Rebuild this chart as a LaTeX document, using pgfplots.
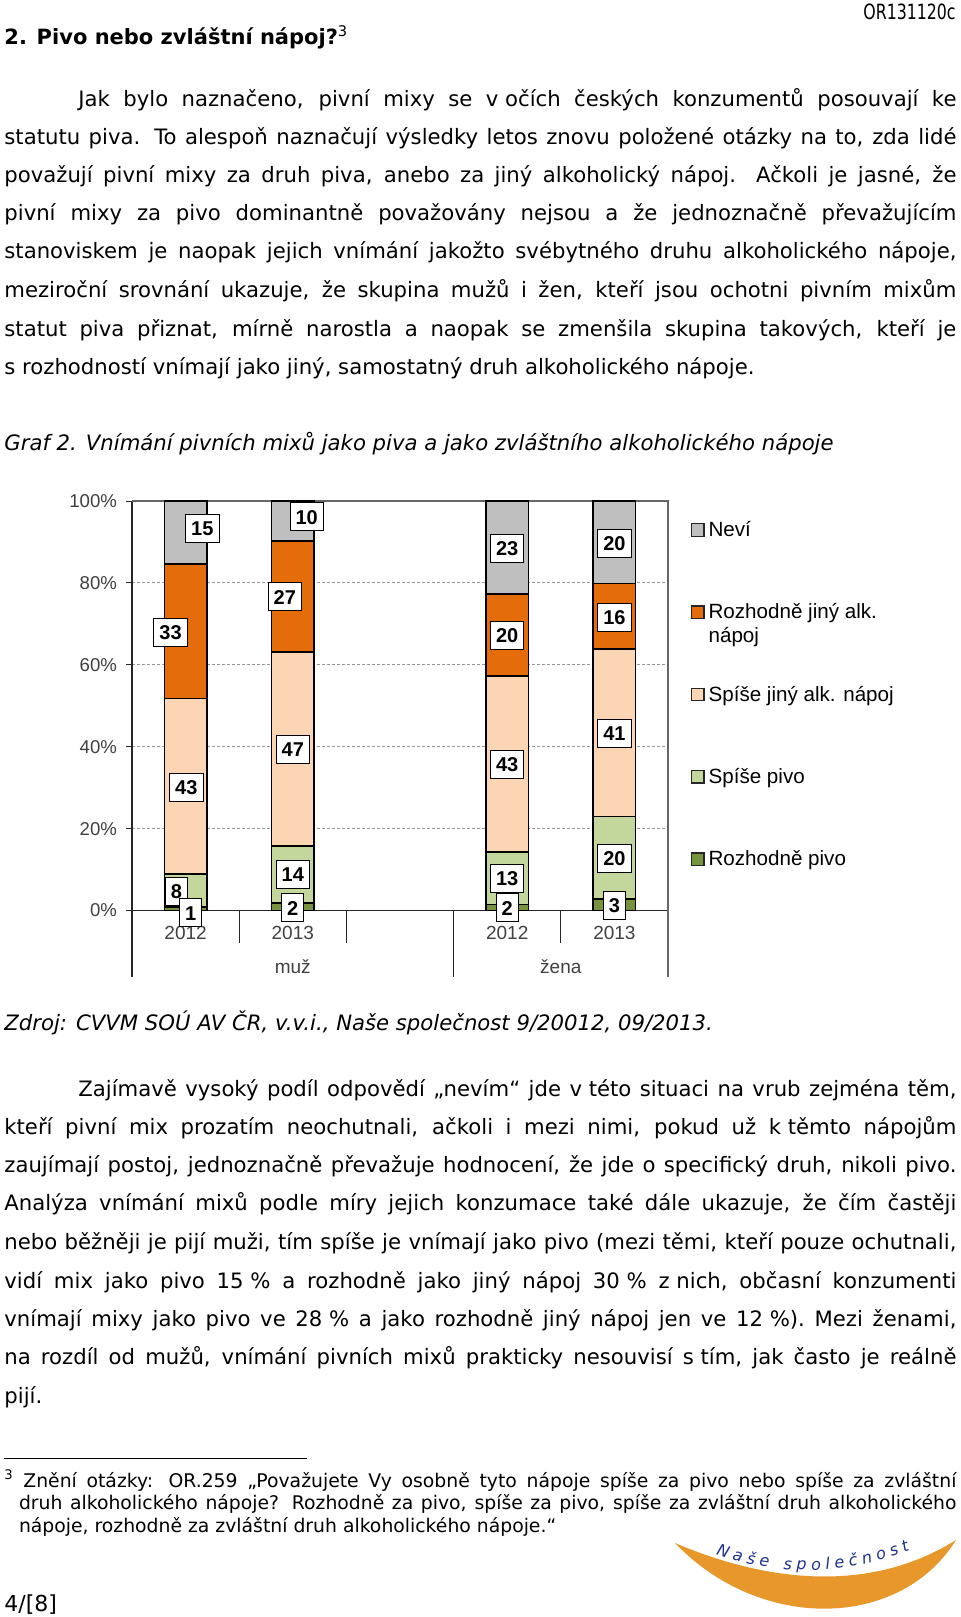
\documentclass[border=0pt]{standalone}
\usepackage{fontspec}
\setmainfont{DejaVu Sans}
\newfontfamily\arial{Liberation Sans}
\usepackage{pgfplots}
\pgfplotsset{compat=1.18}
\usetikzlibrary{decorations.text}
\definecolor{cRP}{HTML}{77933C}
\definecolor{cSP}{HTML}{C3D69B}
\definecolor{cSJ}{HTML}{FCD5B5}
\definecolor{cRJ}{HTML}{E46C0A}
\definecolor{cNV}{HTML}{BFBFBF}
\definecolor{logoOr}{HTML}{E8982B}
\definecolor{logoBl}{HTML}{1F2F8F}
\newcommand{\bodyfont}{\fontsize{10.6pt}{19pt}\selectfont}
\newcommand{\fnfont}{\fontsize{9.4pt}{11.25pt}\selectfont}
\newcommand{\JL}[4]{\node[anchor=base west, inner sep=0pt] at (#1,#2) {\bodyfont\makebox[#3pt][s]{#4}};}
\newcommand{\NL}[3]{\node[anchor=base west, inner sep=0pt] at (#1,#2) {\bodyfont #3};}
\newcommand{\LE}[1]{\raisebox{0pt}[8pt][2.5pt]{#1}}
\begin{document}
\begin{tikzpicture}
\path[use as bounding box] (0pt,0pt) rectangle (480pt,-808.5pt);
\begin{scope}[x=0.5pt,y=-0.5pt]
\node[anchor=base east, inner sep=0pt] at (956,19) {\fontsize{10.5pt}{12pt}\selectfont\scalebox{0.75}[1]{OR131120c}};
\node[anchor=base west, inner sep=0pt] at (4,44) {\fontsize{10.5pt}{12pt}\selectfont\bfseries 2. Pivo nebo zvláštní nápoj?\textsuperscript{\mdseries 3}};
\JL{78}{106}{439}{Jak bylo naznačeno, pivní mixy se \mbox{v očích} českých konzumentů posouvají ke}
\JL{4}{144}{476}{statutu piva. To alespoň naznačují výsledky letos znovu položené otázky na to, zda lidé}
\JL{4}{182}{476}{považují pivní mixy za druh piva, anebo za jiný alkoholický nápoj. Ačkoli je jasné, že}
\JL{4}{220.5}{476}{pivní mixy za pivo dominantně považovány nejsou a že jednoznačně převažujícím}
\JL{4}{258.6}{476}{stanoviskem je naopak jejich vnímání jakožto svébytného druhu alkoholického nápoje,}
\JL{4}{297}{476}{meziroční srovnání ukazuje, že skupina mužů i žen, kteří jsou ochotni pivním mixům}
\JL{4}{336}{476}{statut piva přiznat, mírně narostla a naopak se zmenšila skupina takových, kteří je}
\NL{4}{374}{s rozhodností vnímají jako jiný, samostatný druh alkoholického nápoje.}
\node[anchor=base west, inner sep=0pt] at (4,450) {\bodyfont\itshape Graf 2. Vnímání pivních mixů jako piva a jako zvláštního alkoholického nápoje};
\node[anchor=base west, inner sep=0pt] at (4,1030) {\bodyfont\itshape Zdroj: CVVM SOÚ AV ČR, v.v.i., Naše společnost 9/20012, 09/2013.};
\JL{78}{1096}{439}{Zajímavě vysoký podíl odpovědí „nevím“ jde \mbox{v této} situaci na vrub zejména těm,}
\JL{4}{1134}{476}{kteří pivní mix prozatím neochutnali, ačkoli i mezi nimi, pokud už \mbox{k těmto} nápojům}
\JL{4}{1172}{476}{zaujímají postoj, jednoznačně převažuje hodnocení, že jde o specifický druh, nikoli pivo.}
\JL{4}{1210.5}{476}{Analýza vnímání mixů podle míry jejich konzumace také dále ukazuje, že čím častěji}
\JL{4}{1249.5}{476}{nebo běžněji je pijí muži, tím spíše je vnímají jako pivo (mezi těmi, kteří pouze ochutnali,}
\JL{4}{1288}{476}{vidí mix jako pivo \mbox{15 \%} a rozhodně jako jiný nápoj \mbox{30 \%} \mbox{z nich,} občasní konzumenti}
\JL{4}{1326}{476}{vnímají mixy jako pivo ve \mbox{28 \%} a jako rozhodně jiný nápoj jen ve \mbox{12 \%).} Mezi ženami,}
\JL{4}{1364}{476}{na rozdíl od mužů, vnímání pivních mixů prakticky nesouvisí \mbox{s tím,} jak často je reálně}
\NL{4}{1403}{pijí.}
\draw[line width=0.5pt] (4,1458) -- (307,1458);
\node[anchor=base west, inner sep=0pt] at (4,1487) {\fnfont\textsuperscript{3}};
\node[anchor=base west, inner sep=0pt] at (23,1487) {\fnfont\makebox[466.5pt][s]{Znění otázky: OR.259 „Považujete Vy osobně tyto nápoje spíše za pivo nebo spíše za zvláštní}};
\node[anchor=base west, inner sep=0pt] at (18.6,1509.5) {\fnfont\makebox[468.7pt][s]{druh alkoholického nápoje? Rozhodně za pivo, spíše za pivo, spíše za zvláštní druh alkoholického}};
\node[anchor=base west, inner sep=0pt] at (18.6,1532) {\fnfont nápoje, rozhodně za zvláštní druh alkoholického nápoje.“};
\node[anchor=base west, inner sep=0pt] at (4,1611) {\fontsize{11pt}{13pt}\selectfont 4/[8]};
\fill[logoOr] (675,1543) .. controls (750,1575) and (860,1600) .. (956,1540) .. controls (900,1630) and (760,1632) .. (675,1543) -- cycle;
\path[decorate, decoration={text along path, text={|\fontsize{8pt}{9pt}\selectfont\itshape\color{logoBl}|Naše společnost}, text align={fit to path}}] (716,1554) .. controls (775,1576) and (845,1576) .. (910,1550);
\end{scope}

\begin{axis}[
  at={(66pt,-455.25pt)}, anchor=south west,
  scale only axis, width=268pt, height=204.75pt,
  xmin=-0.5, xmax=4.5, ymin=0, ymax=100,
  ybar stacked, bar width=21.15pt,
  xtick={0,1,3,4}, xticklabels={2012,2013,2012,2013},
  ytick={0,20,40,60,80,100},
  yticklabel={\pgfmathprintnumber{\tick}\%},
  /pgf/number format/assume math mode=true,
  axis x line*=bottom, axis y line*=left,
  axis line style={black!85, line width=0.6pt},
  ymajorgrids, grid style={dash pattern=on 1.5pt off 1pt, black!40, line width=0.5pt},
  tick align=outside, major tick length=3pt,
  x tick style={draw=none}, y tick style={black!85, line width=0.5pt},
  yticklabel style={font=\arial\fontsize{9.3pt}{11pt}\selectfont, text=black!75, anchor=east, xshift=-1pt},
  xticklabel style={font=\arial\fontsize{9.5pt}{11pt}\selectfont, text=black!75, anchor=base, yshift=-11.6pt},
  clip=false,
  legend style={at={(1,1)}, anchor=north west, xshift=11.5pt, yshift=-9.7pt, draw=none, fill=none, inner sep=0pt, outer sep=0pt, row sep=31.65pt, column sep=2pt, font=\arial\fontsize{10.3pt}{11.75pt}\selectfont, nodes={inner sep=0pt}},
  legend cell align=left,
  reverse legend,
  legend image code/.code={\draw[#1, draw=black!85, line width=0.6pt] (0pt,-3.1pt) rectangle (6.2pt,3.1pt);},
]
\addplot[fill=cRP, draw=black, line width=0.8pt] coordinates {(0,0.8) (1,1.9) (3,1.5) (4,2.8)};
\addlegendentry{\LE{Rozhodně pivo}}
\addplot[fill=cSP, draw=black, line width=0.8pt] coordinates {(0,8.1) (1,13.9) (3,12.8) (4,20.2)};
\addlegendentry{\LE{Spíše pivo}}
\addplot[fill=cSJ, draw=black, line width=0.8pt] coordinates {(0,42.9) (1,47.3) (3,43.0) (4,40.9)};
\addlegendentry{\LE{Spíše jiný alk. nápoj}}
\addplot[fill=cRJ, draw=black, line width=0.8pt] coordinates {(0,32.8) (1,27.1) (3,20.0) (4,16.0)};
\addlegendentry{\LE{\begin{tabular}[t]{@{}l@{}}Rozhodně jiný alk.\\nápoj\end{tabular}}}
\addplot[fill=cNV, draw=black, line width=0.8pt] coordinates {(0,15.4) (1,9.8) (3,22.7) (4,20.1)};
\addlegendentry{\LE{Neví}}
\draw[black!60, line width=0.6pt] (axis cs:-0.5,100) -- (axis cs:4.5,100) -- (axis cs:4.5,0) -- ++(0pt,-33.25pt);
\draw[black!85, line width=0.6pt] (axis cs:-0.5,0) -- ++(0pt,-33.25pt);
\draw[black!85, line width=0.6pt] (axis cs:2.5,0) -- ++(0pt,-33.25pt);
\draw[black!85, line width=0.6pt] (axis cs:0.5,0) -- ++(0pt,-16.25pt);
\draw[black!85, line width=0.6pt] (axis cs:1.5,0) -- ++(0pt,-16.25pt);
\draw[black!85, line width=0.6pt] (axis cs:3.5,0) -- ++(0pt,-16.25pt);
\node[font=\arial\fontsize{9.5pt}{11pt}\selectfont, text=black!75, anchor=center, yshift=-28.25pt] at (axis cs:1,0) {muž};
\node[font=\arial\fontsize{9.5pt}{11pt}\selectfont, text=black!75, anchor=center, yshift=-28.25pt] at (axis cs:3.5,0) {žena};
\end{axis}

\begin{axis}[
  at={(66pt,-455.25pt)}, anchor=south west,
  scale only axis, width=268pt, height=204.75pt,
  xmin=-0.5, xmax=4.5, ymin=0, ymax=100,
  hide axis, clip=false,
]
\addplot[only marks, mark=none, nodes near coords, point meta=explicit symbolic,
  nodes near coords align={center},
  every node near coord/.append style={fill=white, draw=black, line width=0.5pt, font=\arial\bfseries\fontsize{10pt}{12pt}\selectfont, inner xsep=2.8pt, inner ysep=0pt, minimum height=14pt, text height=7.2pt, text depth=0pt, anchor=center}]
  table[meta=lab] {
x y lab
0.156 93.4 15
-0.14 67.9 33
0.007 30.1 43
-0.085 4.6 8
0.048 -0.6 1
1.13 96.1 10
0.926 76.6 27
1.0 39.4 47
1.0 8.9 14
1.0 0.65 2
3 88.4 23
3 67.1 20
3 35.6 43
3 7.8 13
3 0.65 2
4 89.6 20
4 71.6 16
4 43.3 41
4 12.7 20
4 1.2 3
};
\end{axis}
\end{tikzpicture}
\end{document}
